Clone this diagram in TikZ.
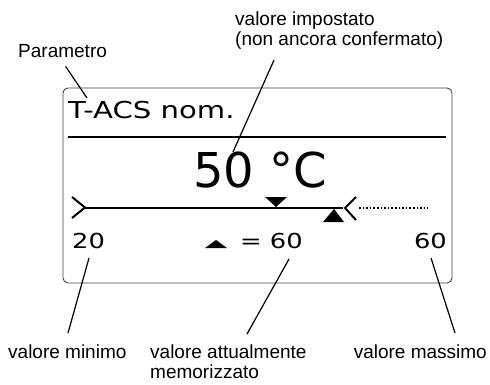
\documentclass[tikz,border=0pt]{standalone}
\usepackage{fontspec}
\usepackage{graphicx}
\setmainfont{Liberation Sans}
\newfontfamily\lcdfont{DejaVu Sans}
\newcommand\lcdwide[1]{\scalebox{1.25}[1]{#1}}

\begin{document}
\begin{tikzpicture}[x=1pt,y=-1pt,
  label/.style={inner sep=0pt,font=\fontsize{19}{20}\selectfont},
  lcd/.style={inner sep=0pt,font=\lcdfont\fontsize{23.3}{24}\selectfont},
  lcdsmall/.style={inner sep=0pt,font=\lcdfont\fontsize{20.6}{21}\selectfont},
  leader/.style={line width=1.2pt},
  bar/.style={line width=2pt}]
\useasboundingbox (0,0) rectangle (490,385);

% --- display frame ---
\draw[black!75,line width=0.9pt,rounded corners=5pt] (63,88) rectangle (452,283);
\node[lcd,anchor=base west] (title) at (68,119) {\lcdwide{T-ACS nom.}};
\draw[bar] (68,137) -- (446,137);
\node[inner sep=0pt,anchor=base west,font=\lcdfont\fontsize{48}{50}\selectfont] (setval) at (193,187) {50 °C};

% --- scale bar ---
\draw[bar] (84,208) -- (343,208);
\draw[bar] (72,197) -- (85,207.5) -- (72,218);
\draw[bar] (356,197) -- (345,208) -- (356,220);
\draw[line width=1.6pt,dash pattern=on 1.6pt off 2pt] (359,208) -- (428,208);
\fill (265,197) -- (287,197) -- (276,207) -- cycle;
\fill (323,222) -- (344,222) -- (334,209) -- cycle;

% --- values ---
\node[lcdsmall,anchor=base west] (minval) at (72,248) {\lcdwide{20}};
\fill (205,248) -- (227,248) -- (216,240) -- cycle;
\node[lcdsmall,anchor=base west] (curval) at (240,248) {\lcdwide{= 60}};
\node[lcdsmall,anchor=base east] (maxval) at (447,248) {\lcdwide{60}};

% --- labels ---
\node[label,anchor=base west] (param) at (18,58) {Parametro};
\node[label,anchor=north west,align=left] (newval) at (235,12) {valore impostato\\(non ancora confermato)};
\node[label,anchor=base west] (minlbl) at (8,358) {valore minimo};
\node[label,anchor=north west,align=left] (curlbl) at (150,345) {valore attualmente\\memorizzato};
\node[label,anchor=base east] (maxlbl) at (487,358) {valore massimo};

% --- leader lines ---
\coordinate (param-tip) at (87,98);
\coordinate (newval-tip) at (233,152);
\coordinate (minval-tip) at (89,258);
\coordinate (curval-tip) at (289,259);
\coordinate (maxval-tip) at (431,258);
\draw[leader] ([shift={(3pt,-8pt)}]param.south) -- (param-tip);
\draw[leader] ([shift={(39pt,-10pt)}]newval.south west) -- (newval-tip);
\draw[leader] ([shift={(60pt,11pt)}]minlbl.north west) -- (minval-tip);
\draw[leader] ([shift={(97pt,11pt)}]curlbl.north west) -- (curval-tip);
\draw[leader] ([shift={(-32pt,11pt)}]maxlbl.north east) -- (maxval-tip);
\end{tikzpicture}
\end{document}
